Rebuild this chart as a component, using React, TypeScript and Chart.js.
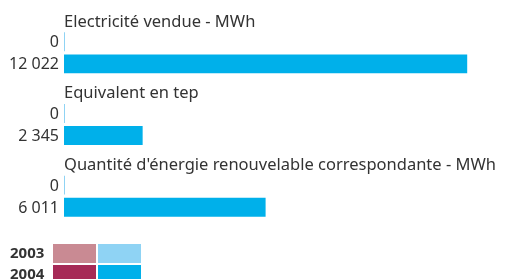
import React, { useEffect, useRef } from "react";
import { Chart, registerables } from "chart.js";

Chart.register(...registerables);

const categories = [
  "Electricité vendue - MWh",
  "Equivalent en tep",
  "Quantité d'énergie renouvelable correspondante - MWh",
];
const years = ["2003", "2004"];
const values2003 = [0, 0, 0];
const values2004 = [12022, 2345, 6011];
const barColors = ["#8fd3f4", "#00b0ea"];
const altColors = ["#c98a93", "#a62a57"];

const FONT = "'Noto Sans', 'DejaVu Sans', sans-serif";

function fmt(v: number): string {
  return String(Math.round(v)).replace(/\B(?=(\d{3})+(?!\d))/g, " ");
}

const overlayPlugin = {
  id: "overlay",
  afterDatasetsDraw(chart: any) {
    const ctx = chart.ctx;
    const area = chart.chartArea;
    ctx.save();
    ctx.fillStyle = "#333333";
    ctx.textBaseline = "middle";
    // value labels
    ctx.font = `16px ${FONT}`;
    ctx.textAlign = "right";
    chart.data.datasets.forEach((ds: any, di: number) => {
      const meta = chart.getDatasetMeta(di);
      meta.data.forEach((bar: any, i: number) => {
        ctx.fillText(fmt(ds.data[i]), area.left - 5, bar.y + 1);
      });
    });
    // group titles
    ctx.textAlign = "left";
    ctx.font = `16.5px ${FONT}`;
    const first = chart.getDatasetMeta(0);
    first.data.forEach((bar: any, i: number) => {
      ctx.fillText(String(chart.data.labels[i]), area.left, bar.y - 20);
    });
    // legend
    ctx.font = `bold 15px ${FONT}`;
    years.forEach((y, i) => {
      const top = 244 + i * 21;
      ctx.fillStyle = "#333333";
      ctx.textAlign = "left";
      ctx.fillText(y, 10, top + 10);
      ctx.fillStyle = altColors[i];
      ctx.fillRect(53, top, 43, 19);
      ctx.fillStyle = barColors[i];
      ctx.fillRect(98, top, 43, 19);
    });
    ctx.restore();
  },
};

export default function App() {
  const ref = useRef<HTMLCanvasElement>(null);
  useEffect(() => {
    document.body.style.margin = "0";
    const chart = new Chart(ref.current!, {
      type: "bar",
      data: {
        labels: categories,
        datasets: [
          {
            label: years[0],
            data: values2003,
            backgroundColor: barColors[0],
            minBarLength: 1,
          },
          {
            label: years[1],
            data: values2004,
            backgroundColor: barColors[1],
          },
        ],
      },
      options: {
        indexAxis: "y",
        animation: false,
        responsive: false,
        categoryPercentage: 0.615,
        barPercentage: 0.86,
        layout: { padding: { left: 64, right: 8, top: 17, bottom: 47 } },
        plugins: { legend: { display: false }, tooltip: { enabled: false } },
        scales: {
          x: { display: false, min: 0, max: 13000 },
          y: { display: false },
        },
      },
      plugins: [overlayPlugin],
    } as any);
    return () => chart.destroy();
  }, []);
  return <canvas ref={ref} width={508} height={279} style={{ display: "block" }} />;
}
